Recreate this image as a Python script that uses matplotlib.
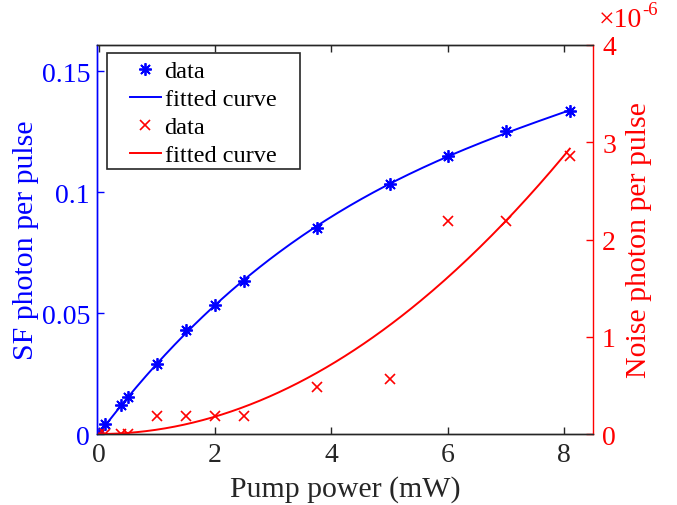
import numpy as np
import matplotlib
matplotlib.use("Agg")
import matplotlib.pyplot as plt
from matplotlib.ticker import FuncFormatter
from matplotlib.patches import Rectangle

plt.rcParams['font.family'] = 'Liberation Serif'

# SF photons (blue, left axis)
sf_power = [0, 0.1, 0.38, 0.5, 1, 1.5, 2, 2.5, 3.75, 5, 6, 7, 8.1]
sf_photon = [0, 0.0042, 0.0118, 0.0155, 0.0290, 0.0430, 0.0532, 0.0634,
             0.0851, 0.1033, 0.1150, 0.1253, 0.1334]

# noise photons (red, right axis), in units of 1e-6
noise_power = [0, 0.1, 0.38, 0.5, 1, 1.5, 2, 2.5, 3.75, 5, 6, 7, 8.1]
noise_photon = [0, 0, 0, 0, 0.19, 0.19, 0.19, 0.19, 0.48, 0.57, 2.19, 2.19, 2.86]

blue = '#0000ff'
red = '#ff0000'
dark = '#262626'

# fitted curves (least squares on the data)
xs = np.array(sf_power)
A = np.vstack([xs, xs**2, xs**3]).T
c_sf = np.linalg.lstsq(A, np.array(sf_photon), rcond=None)[0]
xn = np.array(noise_power)
a_n = np.sum(xn**2 * np.array(noise_photon)) / np.sum(xn**4)
xfit = np.linspace(0, 8.1, 200)
sf_fit = c_sf[0]*xfit + c_sf[1]*xfit**2 + c_sf[2]*xfit**3
noise_fit = a_n * xfit**2 * 1e-6

fig = plt.figure(figsize=(6.77, 5.06), dpi=100)
ax = fig.add_axes([0.1433, 0.1403, 0.7327, 0.7688])
ax2 = ax.twinx()

asterisk = (8, 2, 0)
l1, = ax.plot(sf_power, sf_photon, ls='none', marker=asterisk, ms=9, mew=1.3,
              color=blue, label='data')
l2, = ax.plot(xfit, sf_fit, color=blue, lw=1.4, label='fitted curve')
l3, = ax2.plot(noise_power, np.array(noise_photon)*1e-6, ls='none', marker='x',
               ms=7.5, mew=1.2, color=red, label='data')
l4, = ax2.plot(xfit, noise_fit, color=red, lw=1.4, label='fitted curve')

ax.set_xlim(-0.03, 8.5)
ax.set_ylim(0, 0.1609)
ax2.set_ylim(0, 4e-6)
ax.set_xticks([0, 2, 4, 6, 8])
ax.set_yticks([0, 0.05, 0.1, 0.15])
ax.set_yticklabels(['0', '0.05', '0.1', '0.15'])
ax2.set_yticks([0, 1e-6, 2e-6, 3e-6, 4e-6])
ax2.yaxis.set_major_formatter(FuncFormatter(lambda v, p: '%g' % round(v*1e6, 3)))

for a in (ax, ax2):
    for s in a.spines.values():
        s.set_linewidth(1.0)
        s.set_color(dark)
ax2.spines['left'].set_color(blue)
ax2.spines['right'].set_color(red)
ax.spines['left'].set_color(blue)
ax.spines['right'].set_visible(False)

ax.tick_params(axis='x', direction='in', top=True, length=5, width=1,
               colors=dark, labelsize=20, pad=6)
ax.tick_params(axis='y', direction='in', length=5, width=1, colors=blue,
               labelsize=20, pad=5)
ax2.tick_params(axis='y', direction='in', length=5, width=1, colors=red,
                labelsize=20, pad=6.5)

ax.set_xlabel('Pump power (mW)', fontsize=21.5, color=dark, labelpad=5.5)
ax.set_ylabel('SF photon per pulse', fontsize=21.5, color=blue, labelpad=2)
ax2.set_ylabel('Noise photon per pulse', fontsize=21.5, color=red, labelpad=7)

# exponent label of the right axis
ax2.text(1.012, 1.05, '×10', transform=ax2.transAxes, ha='left',
         va='baseline', fontsize=20, color=red)
ax2.text(1.099, 1.08, '-6', transform=ax2.transAxes, ha='left',
         va='baseline', fontsize=13.5, color=red)

# legend box
box = Rectangle((0.0196, 0.681), 0.389, 0.298, transform=ax2.transAxes,
                facecolor='white', edgecolor=dark, lw=1.2, zorder=4)
ax2.add_patch(box)
leg = ax2.legend([l1, l2, l3, l4], ['data', 'fitted curve', 'data', 'fitted curve'],
                 loc='upper left', bbox_to_anchor=(0.0665, 0.961), borderaxespad=0,
                 fontsize=17.5, frameon=False, handlelength=1.27,
                 handletextpad=0.15, labelspacing=0.245, borderpad=0)
leg.set_zorder(5)

fig.savefig('out.png', dpi=100)
